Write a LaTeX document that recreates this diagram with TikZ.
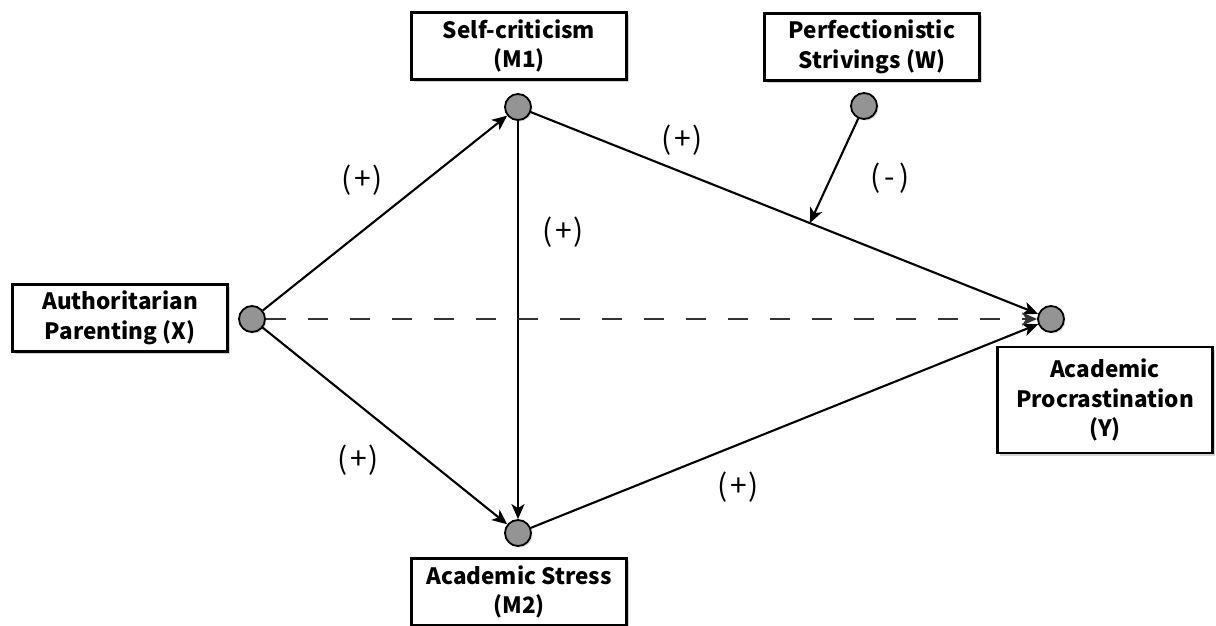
\documentclass[tikz,border=0pt]{standalone}
\usepackage{fontspec}
\setmainfont{Noto Sans CJK SC}
\usetikzlibrary{arrows.meta,shadows,calc}
\begin{document}
\begin{tikzpicture}[x=1pt,y=-1pt,
  box/.style={draw=black,line width=2.4pt,fill=white,minimum width=215pt,minimum height=67pt,
    align=center,inner sep=0pt,font=\bfseries\fontsize{22.5}{29.5}\selectfont,
    drop shadow={shadow xshift=2.5pt,shadow yshift=-2.5pt,opacity=0.35,fill=gray}},
  dot/.style={circle,draw=black,line width=1.8pt,fill=black!42,minimum size=26pt,inner sep=0pt,
    drop shadow={shadow xshift=1.5pt,shadow yshift=-1.5pt,opacity=0.3,fill=gray}},
  arr/.style={line width=2.1pt,-{Stealth[length=15pt,width=13pt,inset=4pt]}},
  lab/.style={font=\fontsize{30}{34}\selectfont,inner sep=0pt}]
\useasboundingbox (0,0) rectangle (1216,625);
\begin{scope}
\clip (0,0) rectangle (1216,625);
\node[box] (m1box) at (519,46) {Self-criticism\\(M1)};
\node[box] (wbox) at (872,47) {Perfectionistic\\Strivings (W)};
\node[box] (xbox) at (120,318) {Authoritarian\\Parenting (X)};
\node[box,minimum height=106pt] (ybox) at (1105,400) {Academic\\Procrastination\\(Y)};
\node[box] (m2box) at (519,592) {Academic Stress\\(M2)};
\end{scope}
\node[dot] (m1) at (518,107) {};
\node[dot] (w) at (864,106) {};
\node[dot] (x) at (252,319) {};
\node[dot] (y) at (1051,319) {};
\node[dot] (m2) at (518,533) {};
\draw[arr] (x) -- (m1);
\draw[arr] (x) -- (m2);
\draw[arr] (m1) -- (m2);
\draw[arr] (m1) -- coordinate[pos=0.55] (mod) (y);
\draw[arr] (m2) -- (y);
\draw[arr,draw=black!80,dash pattern=on 20pt off 22pt] (x) -- (y);
\draw[arr] (w) -- (mod);
\node[lab] (l1) at (362,180) {(\hspace{3pt}+\hspace{2pt})};
\node[lab] (l2) at (563,232) {(\hspace{3pt}+\hspace{2pt})};
\node[lab] (l3) at (682,140) {(\hspace{3pt}+\hspace{2pt})};
\node[lab] (l4) at (890,178) {(\hspace{4pt}-\hspace{4pt})};
\node[lab] (l5) at (358,460) {(\hspace{3pt}+\hspace{2pt})};
\node[lab] (l6) at (738,487) {(\hspace{3pt}+\hspace{2pt})};
\end{tikzpicture}
\end{document}
